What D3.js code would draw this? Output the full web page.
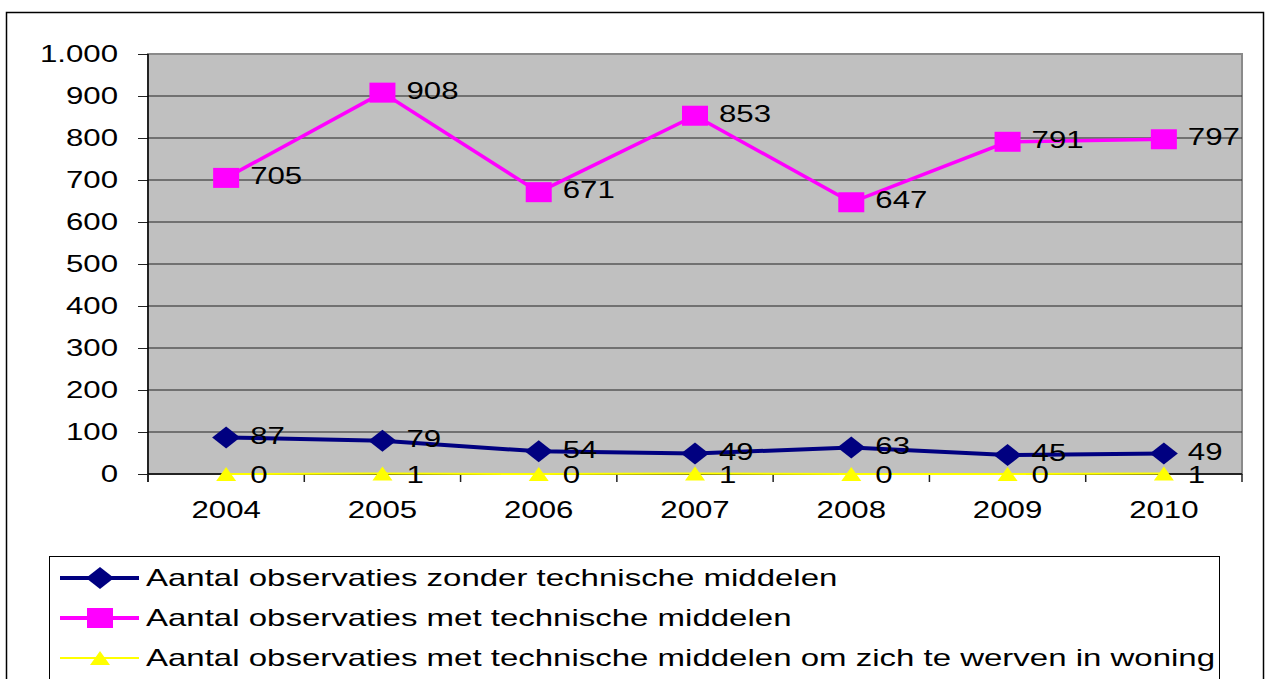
<!DOCTYPE html>
<html><head><meta charset="utf-8">
<script src="https://cdn.jsdelivr.net/npm/d3@7"></script>
<style>html,body{margin:0;padding:0;background:#fff;}svg{display:block;}</style>
</head><body>
<svg id="c" width="1268" height="679"></svg>
<script>
const years = ["2004","2005","2006","2007","2008","2009","2010"];
const zonder = [87,79,54,49,63,45,49];
const met = [705,908,671,853,647,791,797];
const woning = [0,1,0,1,0,0,1];
const yTicks = [0,100,200,300,400,500,600,700,800,900,1000];
const yTickLabels = ["0","100","200","300","400","500","600","700","800","900","1.000"];
const seriesNames = [
  "Aantal observaties zonder technische middelen",
  "Aantal observaties met technische middelen",
  "Aantal observaties met technische middelen om zich te werven in woning"
];

const SX = 1.3;
const SX_LEG = 1.375;
const FONT = "'Liberation Sans', Arial, sans-serif";
const svg = d3.select("#c");
const L = 148, R = 1242, T = 54, B = 474;

const x = d3.scalePoint().domain(years).range([L, R]).padding(0.5);
const xb = d3.scaleBand().domain(years).range([L, R]);
const y = d3.scaleLinear().domain([0, 1000]).range([B, T]);

function txt(g, s, px, py, anchor, sx) {
  return g.append("text")
    .attr("transform", `translate(${px},${py}) scale(${sx || SX},1)`)
    .attr("text-anchor", anchor || "start")
    .attr("dominant-baseline", "central")
    .style("font-family", FONT).style("font-size", "24px")
    .attr("fill", "#000").text(s);
}

// outer border
svg.append("rect").attr("x", 6.5).attr("y", 12.5).attr("width", 1257).attr("height", 700)
  .attr("fill", "#fff").attr("stroke", "#000").attr("stroke-width", 1.5);

// plot area
svg.append("rect").attr("x", L).attr("y", T).attr("width", R - L).attr("height", B - T)
  .attr("fill", "#C0C0C0").attr("stroke", "#8a8a8a").attr("stroke-width", 2);

// gridlines
svg.append("g").selectAll("line").data(yTicks.filter(d => d > 0 && d < 1000)).join("line")
  .attr("x1", L).attr("x2", R).attr("y1", d => y(d)).attr("y2", d => y(d))
  .attr("stroke", "#222").attr("stroke-width", 1);

// y axis
const yAxis = d3.axisLeft(y).tickValues(yTicks).tickSize(10).tickFormat((d, i) => yTickLabels[i]);
const ya = svg.append("g").attr("transform", `translate(${L},0)`).call(yAxis);
ya.select(".domain").remove();
ya.selectAll(".tick line").attr("stroke", "#222");
ya.selectAll(".tick text").remove();
yTicks.forEach((v, i) => txt(svg, yTickLabels[i], 118, y(v), "end"));
svg.append("line").attr("x1", L).attr("x2", L).attr("y1", T).attr("y2", B + 8)
  .attr("stroke", "#000").attr("stroke-width", 1.5);

// x axis
svg.append("line").attr("x1", L).attr("x2", R).attr("y1", B).attr("y2", B)
  .attr("stroke", "#000").attr("stroke-width", 1.5);
const bounds = years.map(d => xb(d)).concat([R]);
svg.append("g").selectAll("line").data(bounds).join("line")
  .attr("x1", d => d).attr("x2", d => d).attr("y1", B).attr("y2", B + 8)
  .attr("stroke", "#222").attr("stroke-width", 1.5);
years.forEach(yr => txt(svg, yr, x(yr), 510, "middle"));

const line = d3.line().x((d, i) => x(years[i])).y(d => y(d));

svg.append("path").datum(woning).attr("d", line).attr("fill", "none")
  .attr("stroke", "#FFFF00").attr("stroke-width", 2);
svg.append("path").datum(zonder).attr("d", line).attr("fill", "none")
  .attr("stroke", "#000080").attr("stroke-width", 4);
svg.append("path").datum(met).attr("d", line).attr("fill", "none")
  .attr("stroke", "#FF00FF").attr("stroke-width", 3.5);

function diamond(g, cx, cy) {
  g.append("path").attr("d", `M${cx - 14},${cy}L${cx},${cy - 11}L${cx + 14},${cy}L${cx},${cy + 11}Z`)
    .attr("fill", "#000080");
}
function square(g, cx, cy) {
  g.append("rect").attr("x", cx - 13).attr("y", cy - 10).attr("width", 26).attr("height", 20)
    .attr("fill", "#FF00FF");
}
function triangle(g, cx, cy) {
  g.append("path").attr("d", `M${cx - 10},${cy + 7}L${cx},${cy - 7}L${cx + 10},${cy + 7}Z`)
    .attr("fill", "#FFFF00");
}

const mk = svg.append("g");
woning.forEach((v, i) => triangle(mk, x(years[i]), y(v)));
zonder.forEach((v, i) => diamond(mk, x(years[i]), y(v)));
met.forEach((v, i) => square(mk, x(years[i]), y(v)));

const lb = svg.append("g");
woning.forEach((v, i) => txt(lb, String(v), x(years[i]) + 24, y(v) + 1));
zonder.forEach((v, i) => txt(lb, String(v), x(years[i]) + 24, y(v) - 2));
met.forEach((v, i) => txt(lb, String(v), x(years[i]) + 24, y(v) - 2));

// legend
const lg = svg.append("g");
lg.append("rect").attr("x", 49.5).attr("y", 556.5).attr("width", 1170).attr("height", 200)
  .attr("fill", "#fff").attr("stroke", "#000").attr("stroke-width", 1);
const rows = [578, 618, 658];
const colors = ["#000080", "#FF00FF", "#FFFF00"];
const widths = [4, 4, 2];
const drawers = [diamond, square, triangle];
rows.forEach((ry, i) => {
  lg.append("line").attr("x1", 60).attr("x2", 139).attr("y1", ry).attr("y2", ry)
    .attr("stroke", colors[i]).attr("stroke-width", widths[i]);
  drawers[i](lg, 100, ry);
  txt(lg, seriesNames[i], 146, ry, "start", SX_LEG);
});
</script>
</body></html>
